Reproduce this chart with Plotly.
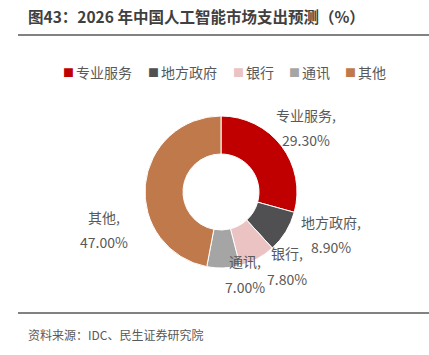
import plotly.graph_objects as go

categories = ["专业服务", "地方政府", "银行", "通讯", "其他"]
values = [29.3, 8.9, 7.8, 7.0, 47.0]
colors = ["#C00000", "#505052", "#EBC3C3", "#A5A5A5", "#C0794A"]
title_text = "图43：2026 年中国人工智能市场支出预测（%）"
source_text = "资料来源：IDC、民生证券研究院"

W, H = 429, 355
FONT = "Noto Sans CJK SC"

cx, cy, r = 221, 192, 76

fig = go.Figure(go.Pie(
    labels=categories,
    values=values,
    marker=dict(colors=colors, line=dict(color="white", width=1)),
    hole=0.5,
    sort=False,
    direction="clockwise",
    rotation=0,
    textinfo="none",
    hoverinfo="label+percent",
    showlegend=False,
    domain=dict(x=[(cx - r) / W, (cx + r) / W], y=[(H - cy - r) / H, (H - cy + r) / H]),
))

def px_x(v):
    return v / W

def px_y(v):
    return (H - v) / H

# label text positions: (x centre, y of name line, y of value line) in pixels
label_pos = [(306, 115, 140), (331, 222, 247), (287, 253, 279), (245, 261, 287), (104, 217, 242)]
annotations = []
for cat, val, (px, py1, py2) in zip(categories, values, label_pos):
    for txt, py in ((f"{cat},", py1), (f"{val:.2f}%", py2)):
        annotations.append(dict(
            x=px_x(px), y=px_y(py), xref="paper", yref="paper",
            text=txt, showarrow=False,
            xanchor="center", yanchor="middle", align="center",
            font=dict(family=FONT, size=14, color="#595959"),
        ))

# legend row (swatch + name for each category)
legend_left = [62, 147, 232, 288, 344]
legend_y = 72
for cat, col, lx in zip(categories, colors, legend_left):
    annotations.append(dict(
        x=px_x(lx - 1), y=px_y(legend_y), xref="paper", yref="paper",
        text="■", showarrow=False, xanchor="left", yanchor="middle",
        font=dict(family=FONT, size=11, color=col),
    ))
    annotations.append(dict(
        x=px_x(lx + 12), y=px_y(legend_y), xref="paper", yref="paper",
        text=cat, showarrow=False, xanchor="left", yanchor="middle",
        font=dict(family=FONT, size=14, color="#595959"),
    ))

annotations.append(dict(
    x=px_x(26), y=px_y(16), xref="paper", yref="paper", text=f"<b>{title_text}</b>",
    showarrow=False, xanchor="left", yanchor="middle",
    font=dict(family=FONT, size=15.5, color="#404040"),
))
annotations.append(dict(
    x=px_x(26), y=px_y(334), xref="paper", yref="paper", text=source_text,
    showarrow=False, xanchor="left", yanchor="middle",
    font=dict(family=FONT, size=12, color="#595959"),
))

shapes = [
    dict(type="line", xref="paper", yref="paper", x0=px_x(18), x1=1, y0=px_y(35), y1=px_y(35),
         line=dict(color="#595959", width=1.5)),
    dict(type="line", xref="paper", yref="paper", x0=px_x(18), x1=1, y0=px_y(313), y1=px_y(313),
         line=dict(color="#595959", width=1.5)),
]

fig.update_layout(
    width=W, height=H,
    margin=dict(l=0, r=0, t=0, b=0, autoexpand=False),
    paper_bgcolor="white", plot_bgcolor="white",
    showlegend=False,
    annotations=annotations,
    shapes=shapes,
)

fig.write_html(
    "out.html",
    config={"displayModeBar": False},
    post_script="document.body.style.margin='0';document.body.style.padding='0';",
)
